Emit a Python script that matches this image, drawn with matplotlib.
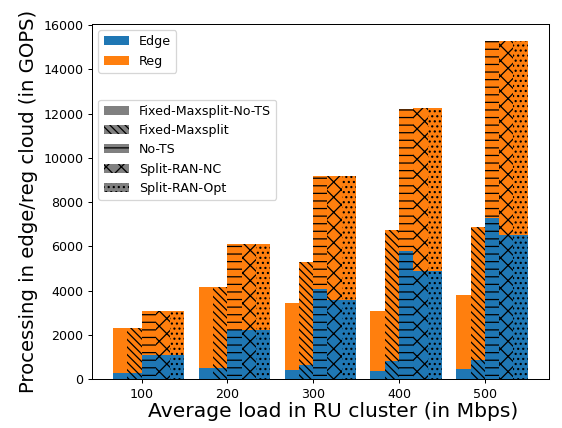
"""Stacked edge/regional processing per RU cluster load, one bar per scheme."""

import matplotlib

matplotlib.use("Agg")
import matplotlib.pyplot as plt
from matplotlib.patches import Patch


BACKSLASH = chr(92)

loads = [100, 200, 300, 400, 500]
schemes = ["Fixed-Maxsplit-No-TS", "Fixed-Maxsplit", "No-TS", "Split-RAN-NC", "Split-RAN-Opt"]
hatches = ["", BACKSLASH * 4, "--", "xx", "..."]

# edge part and total (edge + reg) per scheme, in GOPS
edge = {
    "Fixed-Maxsplit-No-TS": [300, 520, 420, 390, 460],
    "Fixed-Maxsplit": [300, 520, 660, 825, 885],
    "No-TS": [1080, 2220, 4070, 5800, 7280],
    "Split-RAN-NC": [1080, 2220, 3590, 4895, 6500],
    "Split-RAN-Opt": [1080, 2220, 3590, 4895, 6500],
}
total = {
    "Fixed-Maxsplit-No-TS": [2320, 4160, 3440, 3090, 3800],
    "Fixed-Maxsplit": [2320, 4160, 5300, 6730, 6865],
    "No-TS": [3090, 6100, 9180, 12230, 15290],
    "Split-RAN-NC": [3090, 6100, 9180, 12270, 15290],
    "Split-RAN-Opt": [3090, 6100, 9180, 12270, 15290],
}

EDGE_COLOR = "#1f77b4"
REG_COLOR = "#ff7f0e"
DPI = 91


def main() -> None:
    fig = plt.figure(figsize=(562 / DPI, 428 / DPI), dpi=DPI)
    ax = fig.add_axes([0.164, 0.114, 0.812, 0.83])

    width = 100 / 6
    for i, (name, hatch) in enumerate(zip(schemes, hatches)):
        xs = [x + (i - 2) * width for x in loads]
        reg = [t - e for t, e in zip(total[name], edge[name])]
        ax.bar(xs, edge[name], width=width, align="edge", color=EDGE_COLOR,
               edgecolor="black", linewidth=0, hatch=hatch)
        ax.bar(xs, reg, width=width, align="edge", bottom=edge[name], color=REG_COLOR,
               edgecolor="black", linewidth=0, hatch=hatch)

    ax.set_xticks(loads)
    ax.set_xlabel("Average load in RU cluster (in Mbps)", fontsize=16, x=0.527, labelpad=1)
    ax.set_ylabel("Processing in edge/reg cloud (in GOPS)", fontsize=15.5)

    color_handles = [
        Patch(facecolor=EDGE_COLOR, label="Edge"),
        Patch(facecolor=REG_COLOR, label="Reg"),
    ]
    leg1 = ax.legend(handles=color_handles, loc="upper left")
    ax.add_artist(leg1)

    hatch_handles = [
        Patch(facecolor="grey", edgecolor="black", linewidth=0, hatch=h, label=n)
        for n, h in zip(schemes, hatches)
    ]
    ax.legend(handles=hatch_handles, loc="upper left", bbox_to_anchor=(0, 0.805))

    fig.savefig("out.png", dpi=DPI)
    plt.close(fig)


if __name__ == "__main__":
    main()
